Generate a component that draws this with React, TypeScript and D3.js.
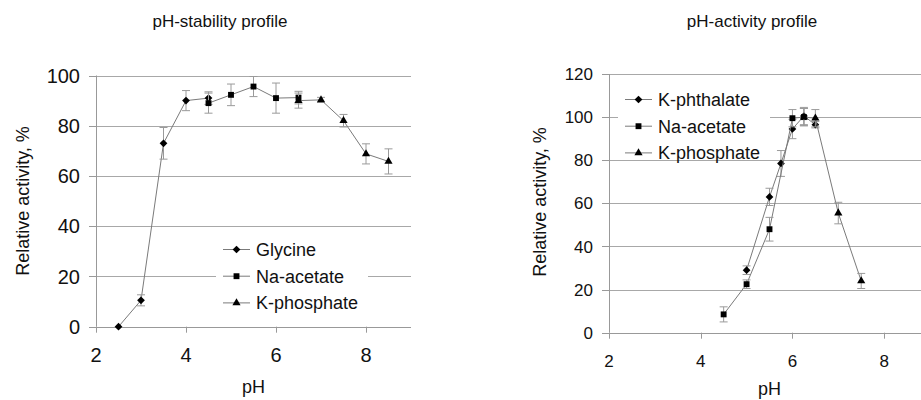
import React, { useEffect, useRef } from 'react';
import * as d3 from 'd3';

// pH-stability profile
const stabGlyPH = [2.5, 3, 3.5, 4, 4.5];
const stabGlyVal = [0, 10.5, 73, 90, 91];
const stabGlyErr = [0, 2.2, 6.3, 4, 2.5];
const stabAcePH = [4.5, 5, 5.5, 6, 6.5];
const stabAceVal = [89, 92.3, 95.6, 91, 91.2];
const stabAceErr = [4, 4.3, 4, 6, 2.5];
const stabPhoPH = [6.5, 7, 7.5, 8, 8.5];
const stabPhoVal = [90, 90.3, 82, 68.8, 65.8];
const stabPhoErr = [3, 1, 2.5, 4, 5];

// pH-activity profile
const actPhtPH = [5, 5.5, 5.75, 6, 6.25, 6.5];
const actPhtVal = [29, 63, 78.5, 94.5, 100.5, 96.5];
const actPhtErr = [2, 4, 6, 4.5, 4, 1.5];
const actAcePH = [4.5, 5, 5.5, 6, 6.25];
const actAceVal = [8.5, 22.5, 48, 99.5, 100];
const actAceErr = [3.5, 2, 5.5, 4, 4];
const actPhoPH = [6.25, 6.5, 7, 7.5];
const actPhoVal = [100, 99.5, 55.5, 24];
const actPhoErr = [4, 4, 5, 3.5];

const xTicks = [2, 4, 6, 8];
const stabYTicks = [0, 20, 40, 60, 80, 100];
const actYTicks = [0, 20, 40, 60, 80, 100, 120];
const stabNames = ['Glycine', 'Na-acetate', 'K-phosphate'];
const actNames = ['K-phthalate', 'Na-acetate', 'K-phosphate'];

const FONT = '"Liberation Sans", Arial, sans-serif';
const symbols = [d3.symbolDiamond2, d3.symbolSquare2, d3.symbolTriangle2];
const symSizes = [38, 44, 48];

const drawChart = (svg, o) => {
  const g = svg.append('g');
  const x = d3.scaleLinear().domain([2, 9]).range([o.x0, o.x1]);
  const y = d3.scaleLinear().domain([0, o.yMax]).range([o.y0, o.y1]);

  // gridlines
  g.selectAll('.grid').data(o.yTicks.filter(t => t > 0)).enter().append('line')
    .attr('x1', o.x0).attr('x2', o.x1)
    .attr('y1', d => Math.round(y(d)) + 0.5).attr('y2', d => Math.round(y(d)) + 0.5)
    .attr('stroke', '#a8a8a8').attr('stroke-width', 1);

  // axes
  const ax = g.append('g').attr('stroke', '#999').attr('stroke-width', 1);
  ax.append('line').attr('x1', o.x0 + 0.5).attr('x2', o.x0 + 0.5).attr('y1', o.y1).attr('y2', o.y0);
  ax.append('line').attr('x1', o.x0).attr('x2', o.x1).attr('y1', Math.round(o.y0) + 0.5).attr('y2', Math.round(o.y0) + 0.5);
  ax.selectAll('.yt').data(o.yTicks).enter().append('line')
    .attr('x1', o.x0 - 7).attr('x2', o.x0)
    .attr('y1', d => Math.round(y(d)) + 0.5).attr('y2', d => Math.round(y(d)) + 0.5);
  ax.selectAll('.xt').data(xTicks).enter().append('line')
    .attr('x1', d => Math.round(x(d)) + 0.5).attr('x2', d => Math.round(x(d)) + 0.5)
    .attr('y1', o.y0).attr('y2', o.y0 + 6);

  g.selectAll('.yl').data(o.yTicks).enter().append('text')
    .attr('x', o.x0 - 16).attr('y', d => y(d)).attr('dy', '0.36em')
    .attr('text-anchor', 'end').attr('font-size', o.tickFont).attr('font-family', FONT)
    .attr('fill', '#111').text(d => d);
  g.selectAll('.xl').data(xTicks).enter().append('text')
    .attr('x', d => x(d)).attr('y', o.xLabY)
    .attr('text-anchor', 'middle').attr('font-size', o.tickFont).attr('font-family', FONT)
    .attr('fill', '#111').text(d => d);

  // titles
  g.append('text').attr('x', o.titleX).attr('y', 27).attr('text-anchor', 'middle')
    .attr('font-size', 17).attr('font-family', FONT).attr('fill', '#111').text(o.title);
  g.append('text').attr('x', (o.x0 + o.x1) / 2).attr('y', o.pHY).attr('text-anchor', 'middle')
    .attr('font-size', 18).attr('font-family', FONT).attr('fill', '#111').text('pH');
  g.append('text').attr('transform', `translate(${o.yTitleX},${o.yTitleY}) rotate(-90)`)
    .attr('text-anchor', 'middle').attr('font-size', 18).attr('font-family', FONT)
    .attr('fill', '#111').text('Relative activity, %');

  // legend box
  g.append('rect').attr('x', o.leg.bx).attr('y', o.leg.by).attr('width', o.leg.bw).attr('height', o.leg.bh)
    .attr('fill', '#fff');

  const line = d3.line().x(d => x(d[0])).y(d => y(d[1]));
  o.series.forEach((s, i) => {
    const pts = s.ph.map((p, j) => [p, s.val[j], s.err[j]]);
    g.append('path').attr('d', line(pts)).attr('fill', 'none')
      .attr('stroke', '#7a7a7a').attr('stroke-width', 1);
    const eb = g.append('g').attr('stroke', '#9a9a9a').attr('stroke-width', 1);
    pts.filter(d => d[2] > 0).forEach(d => {
      const cx = x(d[0]);
      eb.append('line').attr('x1', cx).attr('x2', cx).attr('y1', y(d[1] - d[2])).attr('y2', y(d[1] + d[2]));
      eb.append('line').attr('x1', cx - 4).attr('x2', cx + 4).attr('y1', y(d[1] - d[2])).attr('y2', y(d[1] - d[2]));
      eb.append('line').attr('x1', cx - 4).attr('x2', cx + 4).attr('y1', y(d[1] + d[2])).attr('y2', y(d[1] + d[2]));
    });
    g.selectAll(null).data(pts).enter().append('path')
      .attr('d', d3.symbol().type(symbols[i]).size(symSizes[i])())
      .attr('transform', d => `translate(${x(d[0])},${y(d[1])})`)
      .attr('fill', '#000');

    // legend entry
    const ly = o.leg.y0 + i * o.leg.dy;
    g.append('line').attr('x1', o.leg.lx).attr('x2', o.leg.lx + 27).attr('y1', ly).attr('y2', ly)
      .attr('stroke', '#7a7a7a');
    g.append('path').attr('d', d3.symbol().type(symbols[i]).size(symSizes[i])())
      .attr('transform', `translate(${o.leg.lx + 13.5},${ly})`).attr('fill', '#000');
    g.append('text').attr('x', o.leg.lx + 33).attr('y', ly).attr('dy', '0.36em')
      .attr('font-size', 18).attr('font-family', FONT).attr('fill', '#111').text(s.name);
  });
};

const App = () => {
  const svgRef = useRef();

  useEffect(() => {
    const svg = d3.select(svgRef.current);
    svg.selectAll('*').remove();

    drawChart(svg, {
      x0: 96, x1: 411, y0: 326.7, y1: 75.5, yMax: 100, yTicks: stabYTicks,
      tickFont: 20, xLabY: 362, pHY: 393, titleX: 220, title: 'pH-stability profile',
      yTitleX: 29, yTitleY: 201,
      leg: { bx: 216, by: 236, bw: 152, bh: 82, lx: 223, y0: 249.5, dy: 26.7 },
      series: [
        { name: stabNames[0], ph: stabGlyPH, val: stabGlyVal, err: stabGlyErr },
        { name: stabNames[1], ph: stabAcePH, val: stabAceVal, err: stabAceErr },
        { name: stabNames[2], ph: stabPhoPH, val: stabPhoVal, err: stabPhoErr },
      ],
    });

    drawChart(svg, {
      x0: 609, x1: 930, y0: 332.7, y1: 74, yMax: 120, yTicks: actYTicks,
      tickFont: 17, xLabY: 366.5, pHY: 395, titleX: 752, title: 'pH-activity profile',
      yTitleX: 546, yTitleY: 202,
      leg: { bx: 618, by: 86, bw: 152, bh: 72, lx: 625, y0: 99.5, dy: 26.7 },
      series: [
        { name: actNames[0], ph: actPhtPH, val: actPhtVal, err: actPhtErr },
        { name: actNames[1], ph: actAcePH, val: actAceVal, err: actAceErr },
        { name: actNames[2], ph: actPhoPH, val: actPhoVal, err: actPhoErr },
      ],
    });
  }, []);

  return (
    <svg ref={svgRef} width={921} height={400}
      style={{ position: 'absolute', left: 0, top: 0, background: '#fff' }} />
  );
};

export default App;
